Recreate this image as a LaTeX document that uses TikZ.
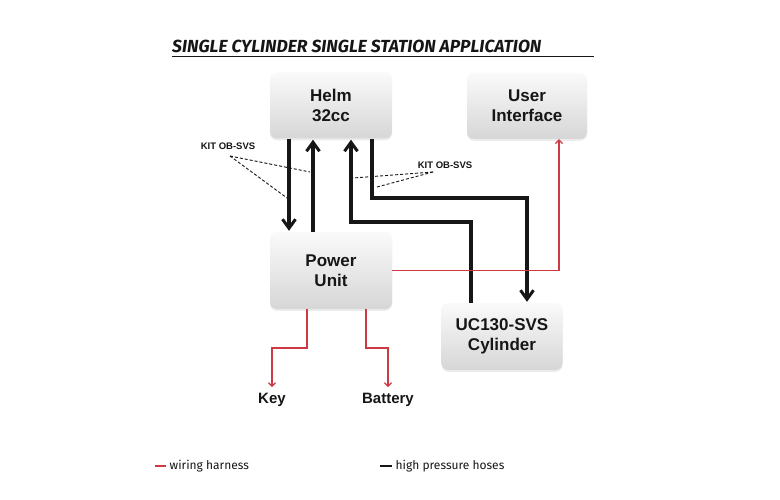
\documentclass[tikz,border=0pt]{standalone}
\usepackage{fontspec}
\setmainfont{Liberation Sans}
\newfontfamily\titlefont{Fira Sans}
\usetikzlibrary{arrows.meta,shadows,calc}
\definecolor{wire}{RGB}{206,58,68}
\definecolor{txt}{RGB}{22,22,22}
\begin{document}
\begin{tikzpicture}[x=1pt,y=-1pt,
  box/.style={rounded corners=7pt, top color=gray!4, bottom color=gray!32, draw=none,
    minimum width=122pt, minimum height=66pt, align=center, text=txt,
    font=\fontsize{17}{20}\selectfont\bfseries,
    drop shadow={opacity=0.15, shadow xshift=0pt, shadow yshift=-1.8pt}},
  hose/.style={line width=3.2pt, draw=txt},
  hosearrow/.style={hose, -{Straight Barb[length=9pt,width=13pt,line width=3pt]}},
  wirearrow/.style={line width=1.3pt, draw=wire, -{Straight Barb[length=3.5pt,width=7pt,line width=1.2pt]}},
  kit/.style={font=\fontsize{9.5}{11}\selectfont\bfseries, text=txt, inner sep=1pt},
  kitline/.style={dashed, dash pattern=on 3pt off 2pt, line width=0.9pt, draw=txt},
  endlabel/.style={font=\fontsize{15}{18}\selectfont\bfseries, text=txt, inner sep=0pt},
  legend/.style={font=\titlefont\fontsize{12}{14}\selectfont, text=txt, anchor=west, inner sep=0pt}
]
\useasboundingbox (0,0) rectangle (780,500);
\fill[white] (0,0) rectangle (780,500);

% title
\node[anchor=base west, inner sep=0pt, text=txt,
      font=\titlefont\fontsize{17.5}{20}\selectfont\bfseries\itshape] (title) at (172,52.5)
  {SINGLE CYLINDER SINGLE STATION APPLICATION};
\coordinate (ulA) at (172,56.5);
\coordinate (ulB) at (594,56.5);
\draw[line width=1.2pt, txt] (ulA) -- (ulB);

% boxes
\node[box] (helm) at (331,105.5) {Helm\\32cc};
\node[box, minimum width=120pt] (ui) at (527,106) {User\\Interface};
\node[box, minimum height=77pt] (power) at (331,270.5) {Power\\Unit};
\node[box, minimum width=121pt, minimum height=67pt] (uc) at (502,336.5) {UC130-SVS\\Cylinder};

% end labels
\node[endlabel] (key) at (272,400) {Key};
\node[endlabel] (battery) at (388,400) {Battery};

% hose coordinates
\coordinate (x1) at (289,0);
\coordinate (x2) at (313,0);
\coordinate (c3) at (351,222);
\coordinate (x3) at (471,222);
\coordinate (c4) at (372,198);
\coordinate (x4) at (527,198);

\draw[hosearrow, shorten >=1pt] (helm.south -| x1) -- (power.north -| x1);
\draw[hosearrow, shorten >=1pt] (power.north -| x2) -- (helm.south -| x2);
\draw[hosearrow, shorten >=1pt] (uc.north -| x3) -- (x3) -- (c3) -- (helm.south -| c3);
\draw[hosearrow, shorten >=1pt] (helm.south -| c4) -- (c4) -- (x4) -- (uc.north -| x4);

% wiring
\coordinate (uix) at (559,0);
\draw[wirearrow] (power.east) -| (ui.south -| uix);
\coordinate (k1) at (307,0);
\coordinate (kt) at (272,348);
\coordinate (b1) at (366,0);
\coordinate (bt) at (388,348);
\draw[wirearrow] (power.south -| k1) |- (kt) -- ($(key.north)+(0,-6)$);
\draw[wirearrow] (power.south -| b1) |- (bt) -- ($(battery.north)+(0,-6)$);

% kit labels
\node[kit] (kitL) at (228,146) {KIT OB-SVS};
\node[kit] (kitR) at (445,165) {KIT OB-SVS};
\coordinate (dL1) at (287,198);
\coordinate (dL2) at (310,172);
\coordinate (dR1) at (353,178);
\coordinate (dR2) at (377,187);
\coordinate (sL) at (230,156);
\coordinate (sR) at (433,172);
\draw[kitline] (sL) -- (dL1);
\draw[kitline] (sL) -- (dL2);
\draw[kitline] (sR) -- (dR1);
\draw[kitline] (sR) -- (dR2);

% legend
\coordinate (lr1) at (155,466);
\coordinate (lr2) at (166,466);
\draw[line width=1.6pt, wire] (lr1) -- (lr2);
\node[legend] (legwire) at (169.5,466) {wiring harness};
\coordinate (lb1) at (380,466);
\coordinate (lb2) at (392,466);
\draw[line width=1.6pt, txt] (lb1) -- (lb2);
\node[legend] (leghose) at (395.5,466) {high pressure hoses};
\end{tikzpicture}
\end{document}
